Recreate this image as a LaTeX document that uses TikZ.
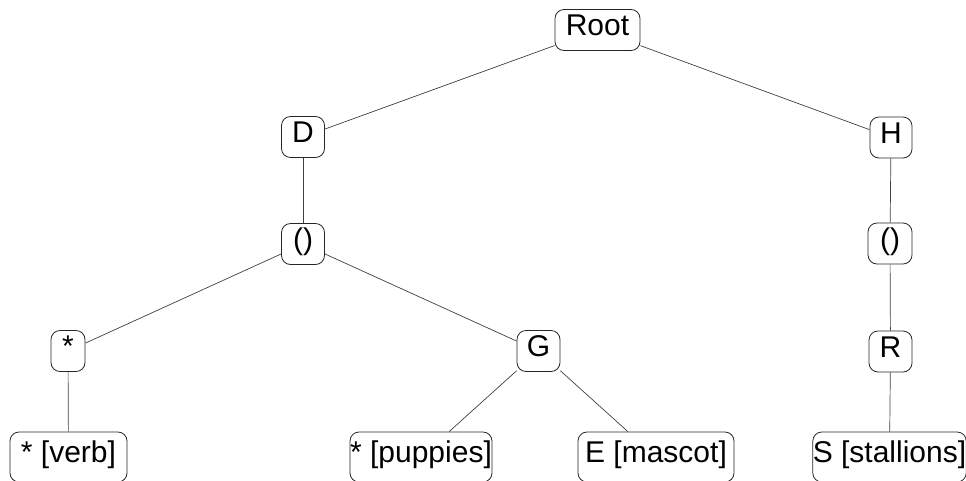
\documentclass[tikz,border=0pt]{standalone}
\usepackage{fontspec}
\setmainfont{Liberation Sans}
\begin{document}
\begin{tikzpicture}[x=1pt,y=-1pt,
  box/.style={draw=black!85,line width=0.8pt,rounded corners=9pt,
    inner xsep=0pt,inner ysep=5pt,text height=21pt,text depth=10pt,
    font=\fontsize{30}{35}\selectfont},
  leaf/.style={box,minimum height=50pt},
  edge/.style={draw=black!75,line width=0.7pt}]
\useasboundingbox (0,0) rectangle (966,480);
\clip (0,0) rectangle (966,480);
% inner nodes
\node[box,minimum width=85pt] (root) at (597.5,30) {Root};
\node[box,minimum width=43pt] (d) at (303,137) {D};
\node[box,minimum width=42pt] (h) at (891,137.5) {H};
\node[box,minimum width=43pt] (dgrp) at (303,244) {()};
\node[box,minimum width=44pt] (hgrp) at (890,243.5) {()};
\node[box,minimum width=34pt] (star) at (68,351) {*};
\node[box,minimum width=43pt] (g) at (538.5,351) {G};
\node[box,minimum width=43pt] (r) at (890.5,351.5) {R};
% leaves
\node[leaf,minimum width=117pt] (verb) at (68.5,457) {* [verb]};
\node[leaf,minimum width=142pt,inner xsep=-2pt] (puppies) at (421,457) {* [puppies]};
\node[leaf,minimum width=156pt] (mascot) at (656,457) {E [mascot]};
\node[leaf,minimum width=153pt] (stallions) at (889.5,457) {S [stallions]};
% edges
\draw[edge] (root) -- (d);
\draw[edge] (root) -- (h);
\draw[edge] (d) -- (dgrp);
\draw[edge] (h) -- (hgrp);
\draw[edge] (dgrp) -- (star);
\draw[edge] (dgrp) -- (g);
\draw[edge] (hgrp) -- (r);
\draw[edge] (star) -- (verb);
\draw[edge] (g) -- (puppies);
\draw[edge] (g) -- (mascot);
\draw[edge] (r) -- (stallions);
\end{tikzpicture}
\end{document}
